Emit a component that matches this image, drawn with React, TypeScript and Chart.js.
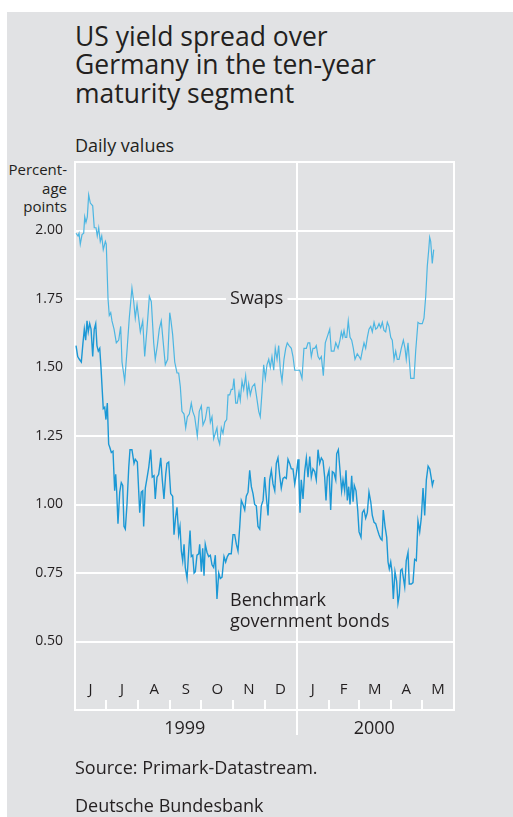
import React, { useEffect, useRef } from 'react';
import { Chart, registerables } from 'chart.js';

Chart.register(...registerables);

// ---- data ----
const monthLabels = ['J', 'J', 'A', 'S', 'O', 'N', 'D', 'J', 'F', 'M', 'A', 'M'];
// day offsets (from 1 June 1999) at which each month starts, plus the end
const monthStarts = [0, 30, 61, 92, 122, 153, 183, 214, 245, 274, 305, 335, 366];
const yearLabels = ['1999', '2000'];
const yearStarts = [0, 214, 366];
const yTickValues = [0.5, 0.75, 1.0, 1.25, 1.5, 1.75, 2.0];

const swapDays = [
  1.0, 2.9, 3.9, 5.1, 6.8, 8.4, 9.4, 10.6, 11.9, 13.2, 14.8, 17.1, 18.6, 20.3, 21.5, 22.9, 24.4, 25.8, 27.3, 29.3,
  30.2, 31.9, 33.1, 34.5, 35.7, 37.7, 39.9, 42.2, 44.1, 45.4, 48.0, 50.2, 52.4, 55.0, 56.7, 58.2, 59.9, 63.1, 65.4, 67.3,
  69.5, 71.8, 73.7, 76.0, 77.5, 79.5, 81.4, 83.3, 85.0, 87.2, 89.5, 91.5, 92.7, 94.3, 96.3, 98.5, 100.1, 101.7, 103.3, 105.3,
  106.9, 108.5, 110.4, 112.3, 113.7, 115.6, 118.1, 120.0, 122.0,
  123.6, 125.8, 127.8, 129.4, 130.7, 132.3, 133.9, 135.5, 137.1, 138.1, 139.7, 141.3, 142.9, 144.6, 146.5, 147.8, 149.4, 150.9, 152.3, 153.5,
  155.2, 156.7, 158.4, 159.6, 161.3, 162.9, 164.8, 166.4, 167.7, 169.3, 171.2, 173.5, 175.5, 177.4, 178.9, 180.6, 182.2, 183.8, 185.4, 187.1,
  188.6, 190.2, 191.9, 193.4, 195.1, 196.7, 198.3, 199.9, 201.8, 203.5, 205.0, 206.7, 208.9, 210.5, 212.2, 214.4, 217.0, 219.2, 221.1, 223.4,
  225.0, 226.7, 228.2, 229.8, 231.5, 233.0, 234.7, 236.3, 237.9, 239.8, 241.7,
  244.3, 246.0, 247.5, 250.1, 251.8, 254.0, 255.9, 257.2, 258.5, 259.8, 261.0, 262.4, 263.9, 265.6, 267.2, 268.8, 270.4, 272.6, 274.3, 275.9,
  277.4, 279.1, 280.7, 282.3, 283.9, 285.6, 287.1, 288.8, 290.4, 291.9, 293.6, 295.2, 296.8, 298.4, 300.0, 301.6, 303.2, 304.9, 306.4, 308.1,
  309.7, 311.2, 312.9, 315.1, 317.1, 318.7, 319.9, 321.6, 322.8, 324.2, 325.7, 327.4, 329.0, 331.2, 332.9, 335.4, 337.0, 338.7, 340.2, 341.6,
  342.5, 343.5, 345.0, 346.4,
];
const swapValues = [
  1.99, 1.98, 1.99, 1.95, 1.985, 1.99, 2.05, 2.03, 2.05, 2.13, 2.10, 2.09, 2.01, 2.01, 1.98, 2.01, 1.96, 1.98, 1.93, 1.96,
  1.95, 1.75, 1.69, 1.70, 1.67, 1.64, 1.59, 1.60, 1.65, 1.52, 1.45, 1.56, 1.68, 1.79, 1.74, 1.68, 1.73, 1.63, 1.67, 1.54,
  1.64, 1.76, 1.74, 1.59, 1.53, 1.58, 1.64, 1.67, 1.60, 1.51, 1.53, 1.70, 1.67, 1.62, 1.52, 1.48, 1.48, 1.43, 1.34, 1.33,
  1.28, 1.32, 1.33, 1.37, 1.34, 1.32, 1.25, 1.34, 1.36,
  1.29, 1.31, 1.355, 1.355, 1.30, 1.32, 1.24, 1.26, 1.28, 1.24, 1.22, 1.28, 1.26, 1.30, 1.31, 1.40, 1.40, 1.42, 1.42, 1.46,
  1.37, 1.37, 1.41, 1.38, 1.45, 1.42, 1.47, 1.40, 1.44, 1.40, 1.43, 1.44, 1.39, 1.34, 1.32, 1.41, 1.51, 1.46, 1.51, 1.53,
  1.50, 1.54, 1.49, 1.57, 1.53, 1.58, 1.49, 1.45, 1.53, 1.57, 1.59, 1.58, 1.57, 1.54, 1.49, 1.49, 1.49, 1.46, 1.57, 1.57,
  1.59, 1.59, 1.54, 1.57, 1.57, 1.58, 1.54, 1.53, 1.54, 1.47, 1.59,
  1.62, 1.64, 1.56, 1.56, 1.59, 1.57, 1.60, 1.63, 1.61, 1.635, 1.61, 1.61, 1.67, 1.61, 1.60, 1.57, 1.53, 1.55, 1.54, 1.53,
  1.56, 1.59, 1.57, 1.61, 1.64, 1.65, 1.63, 1.665, 1.64, 1.645, 1.66, 1.645, 1.665, 1.635, 1.63, 1.665, 1.65, 1.61, 1.60, 1.53,
  1.56, 1.53, 1.53, 1.57, 1.60, 1.57, 1.53, 1.59, 1.53, 1.46, 1.46, 1.46, 1.56, 1.665, 1.66, 1.66, 1.68, 1.76, 1.87, 1.93,
  1.975, 1.96, 1.88, 1.93,
];

const bondDays = [
  1.0, 2.6, 4.2, 6.1, 7.7, 9.0, 10.3, 11.6, 12.8, 14.2, 15.5, 17.1, 18.6, 20.0, 21.2, 22.5, 23.9, 25.1, 26.4, 27.3,
  28.7, 29.9, 31.2, 32.5, 33.5, 35.1, 36.7, 38.3, 39.3, 40.3, 41.5, 43.2, 44.7, 46.1, 47.3, 48.6, 50.2, 51.9, 53.1, 55.0,
  57.0, 58.2, 60.2, 61.5, 62.5, 64.0, 65.4, 66.3, 67.9, 69.5, 71.2, 73.1, 74.6, 76.3, 77.5, 79.2, 80.8, 82.8, 84.3, 85.9,
  87.6, 88.8, 90.5, 92.4, 94.3, 95.6, 97.2, 98.5, 100.1, 101.4, 102.7, 104.0, 105.3, 106.5, 108.2, 109.8, 111.1, 112.3, 113.7, 115.0,
  116.2, 117.8, 119.5,
  120.4, 122.0, 123.3, 124.6, 125.8, 127.5, 129.1, 130.7, 132.3, 133.9, 135.5, 137.1, 138.8, 140.3, 142.0, 143.9, 145.5, 147.1, 148.7, 150.9,
  152.6, 154.2, 155.8, 157.4, 159.1, 160.6, 162.2, 163.9, 165.4, 167.1, 168.7, 170.3, 171.9, 173.5, 175.1, 176.7, 178.4, 179.9, 181.6, 183.2,
  184.7, 186.4, 188.0, 189.6, 191.2, 192.9, 194.4, 196.0, 197.7, 199.2, 200.9, 202.5, 204.1, 205.7, 207.3, 208.9, 210.5, 212.2, 213.7, 215.4,
  216.3, 217.3, 218.5, 220.2, 221.8, 223.4, 225.0, 226.7, 228.2, 229.8, 231.5, 233.0, 234.7, 236.3, 237.9, 239.5, 241.1, 242.4, 243.6,
  245.3, 246.9, 248.5, 250.1, 251.8, 252.7, 254.3, 255.9, 257.5, 258.8, 260.4, 261.7, 263.0, 264.3, 265.6, 267.2, 268.5, 269.7, 271.4, 273.0,
  274.3, 276.2, 277.5, 279.1, 280.7, 282.3, 283.9, 285.6, 287.1, 288.8, 290.4, 291.9, 293.6, 295.2, 296.5, 297.7, 299.4, 301.0, 302.3, 303.5,
  304.9, 306.1, 307.4, 309.0, 310.6, 311.9, 313.2, 314.5, 315.8, 317.0, 318.4, 319.9, 321.6, 322.8, 324.8, 326.4, 328.0, 329.6, 331.2, 332.9,
  334.4, 336.1, 337.7, 339.3, 341.0, 342.6, 344.1, 345.1, 346.4,
];
const bondValues = [
  1.58, 1.54, 1.53, 1.52, 1.59, 1.64, 1.60, 1.67, 1.63, 1.66, 1.64, 1.54, 1.64, 1.66, 1.58, 1.56, 1.57, 1.50, 1.41, 1.35,
  1.355, 1.31, 1.37, 1.22, 1.21, 1.19, 1.195, 1.05, 1.11, 1.045, 0.93, 1.045, 1.08, 1.07, 0.92, 0.91, 1.00, 1.135, 1.20, 1.20,
  1.15, 1.165, 1.155, 1.05, 0.97, 1.045, 1.05, 0.92, 1.06, 1.095, 1.135, 1.20, 1.10, 1.105, 1.02, 1.10, 1.11, 1.17, 1.09, 1.02,
  1.11, 1.15, 1.155, 1.04, 1.03, 0.89, 0.955, 0.99, 0.89, 0.92, 0.83, 0.795, 0.855, 0.77, 0.73, 0.83, 0.905, 0.81, 0.815, 0.75,
  0.755, 0.815, 0.82,
  0.855, 0.755, 0.84, 0.74, 0.855, 0.825, 0.81, 0.815, 0.78, 0.77, 0.815, 0.655, 0.75, 0.73, 0.735, 0.81, 0.79, 0.81, 0.82, 0.82,
  0.89, 0.89, 0.855, 0.83, 0.92, 1.015, 1.00, 0.98, 1.03, 1.045, 1.125, 1.065, 1.04, 1.00, 0.995, 0.92, 0.91, 0.995, 1.015, 1.10,
  1.03, 0.96, 1.09, 1.125, 1.075, 1.05, 1.15, 1.17, 1.105, 1.06, 1.095, 1.10, 1.095, 1.165, 1.15, 1.13, 1.13, 1.075, 1.11, 1.165,
  1.09, 0.97, 1.09, 1.02, 1.12, 1.17, 1.10, 1.175, 1.10, 1.13, 1.12, 1.09, 1.20, 1.15, 1.17, 1.16, 1.10, 1.015, 1.10,
  1.125, 0.98, 1.12, 1.115, 1.09, 1.185, 1.20, 1.125, 1.05, 1.09, 1.05, 1.125, 1.015, 1.065, 1.00, 1.105, 1.01, 1.07, 1.05, 0.98,
  0.90, 0.88, 0.97, 0.98, 0.95, 0.97, 1.045, 1.01, 0.96, 0.935, 0.93, 0.91, 0.89, 0.875, 0.87, 0.98, 0.92, 0.88, 0.79, 0.765,
  0.79, 0.755, 0.655, 0.755, 0.72, 0.64, 0.67, 0.76, 0.765, 0.735, 0.70, 0.795, 0.825, 0.71, 0.71, 0.715, 0.80, 0.795, 0.94, 0.90,
  0.95, 1.06, 0.96, 1.09, 1.14, 1.13, 1.095, 1.07, 1.09,
];

const FONT = '"Open Sans", "Noto Sans", sans-serif';
const TEXT = '#231f20';
const BG = '#e1e2e4';

const zip = (xs: number[], ys: number[]) =>
  xs.slice(0, Math.min(xs.length, ys.length)).map((x, i) => ({ x, y: ys[i] }));

const decorPlugin = {
  id: 'decor',
  beforeDatasetsDraw(chart: any) {
    const { ctx, chartArea, scales } = chart;
    const { left, right, top, bottom } = chartArea;
    const x = scales.x;
    const y = scales.y;
    ctx.save();
    ctx.strokeStyle = '#ffffff';
    ctx.lineWidth = 2;
    const line = (x1: number, y1: number, x2: number, y2: number) => {
      ctx.beginPath();
      ctx.moveTo(x1, y1);
      ctx.lineTo(x2, y2);
      ctx.stroke();
    };
    // frame
    line(left, top - 1, left, bottom + 1);
    line(right, top - 1, right, bottom + 1);
    // month tick marks
    monthStarts.slice(1, -1).forEach((d) => {
      const px = Math.round(x.getPixelForValue(d));
      line(px, bottom, px, bottom - 10);
    });
    // year separator
    const yx = Math.round(x.getPixelForValue(yearStarts[1]));
    line(yx, top, yx, bottom + 25);

    // month labels
    ctx.fillStyle = TEXT;
    ctx.font = `15px ${FONT}`;
    ctx.textAlign = 'center';
    ctx.textBaseline = 'middle';
    monthLabels.forEach((m, i) => {
      const mid = (monthStarts[i] + monthStarts[i + 1]) / 2;
      ctx.fillText(m, x.getPixelForValue(mid), bottom - 20);
    });
    // year labels
    ctx.font = `18px ${FONT}`;
    yearLabels.forEach((yl, i) => {
      const mid = (yearStarts[i] + yearStarts[i + 1]) / 2;
      ctx.fillText(yl, x.getPixelForValue(mid) - 1, bottom + 19);
    });

    // series labels
    ctx.font = `18px ${FONT}`;
    ctx.textAlign = 'left';
    const sx = x.getPixelForValue(149.7);
    const sy = y.getPixelForValue(1.75);
    const w = ctx.measureText('Swaps').width;
    ctx.fillStyle = BG;
    ctx.fillRect(sx - 4, sy - 4, w + 8, 8);
    ctx.fillStyle = TEXT;
    ctx.fillText('Swaps', sx, sy);
    ctx.fillText('Benchmark', sx, y.getPixelForValue(0.65));
    ctx.fillText('government bonds', sx, y.getPixelForValue(0.573));
    ctx.restore();
  },
};

function SpreadChart() {
  const ref = useRef<HTMLCanvasElement | null>(null);
  useEffect(() => {
    if (!ref.current) return;
    const chart = new Chart(ref.current, {
      type: 'line',
      data: {
        datasets: [
          {
            label: 'Benchmark government bonds',
            data: zip(bondDays, bondValues),
            borderColor: '#1b98d5',
            borderWidth: 1.4,
            pointRadius: 0,
            tension: 0,
          },
          {
            label: 'Swaps',
            data: zip(swapDays, swapValues),
            borderColor: '#4cb6e2',
            borderWidth: 1.2,
            pointRadius: 0,
            tension: 0,
          },
        ],
      },
      options: {
        animation: false,
        responsive: false,
        devicePixelRatio: 1,
        layout: { padding: { top: 162, right: 59, bottom: 107, left: 0 } },
        plugins: { legend: { display: false }, tooltip: { enabled: false }, title: { display: false } },
        scales: {
          x: { type: 'linear', min: 0, max: 366, display: false },
          y: {
            type: 'linear',
            min: 0.25,
            max: 2.25,
            afterFit: (s: any) => {
              s.width = 75;
            },
            afterBuildTicks: (s: any) => {
              s.ticks = [0.25, ...yTickValues, 2.25].map((v) => ({ value: v }));
            },
            grid: { color: '#ffffff', lineWidth: 2, drawTicks: false },
            border: { display: false },
            ticks: {
              padding: 12,
              color: TEXT,
              font: { family: FONT, size: 14 },
              callback: (v: any) => (yTickValues.includes(Number(v)) ? Number(v).toFixed(2) : ''),
            },
          },
        },
      },
      plugins: [decorPlugin],
    } as any);
    return () => chart.destroy();
  }, []);
  return (
    <canvas
      ref={ref}
      width={513}
      height={817}
      style={{ position: 'absolute', left: 0, top: 0, width: 513, height: 817 }}
    />
  );
}

export default function App() {
  const abs = (l: number, t: number, extra: React.CSSProperties = {}): React.CSSProperties => ({
    position: 'absolute',
    left: l,
    top: t,
    whiteSpace: 'nowrap',
    ...extra,
  });
  return (
    <div
      style={{
        position: 'fixed',
        left: 0,
        top: 0,
        width: 513,
        height: 817,
        overflow: 'hidden',
        background: '#ffffff',
        fontFamily: FONT,
        color: TEXT,
      }}
    >
      <div style={{ position: 'absolute', left: 7, top: 12, width: 506, height: 805, background: BG }} />
      <div style={abs(75, 21.5, { fontSize: 26.5, lineHeight: '28.5px' })}>
        US yield spread over
        <br />
        Germany in the ten-year
        <br />
        maturity segment
      </div>
      <div style={abs(75, 135, { fontSize: 18, lineHeight: '20px' })}>Daily values</div>
      <div style={abs(0, 160, { width: 67, textAlign: 'right', fontSize: 15, lineHeight: '18.5px' })}>
        Percent-
        <br />
        age
        <br />
        points
      </div>
      <SpreadChart />
      <div style={abs(75, 757, { fontSize: 18, lineHeight: '20px' })}>Source: Primark-Datastream.</div>
      <div style={abs(75, 795, { fontSize: 18, lineHeight: '20px' })}>Deutsche Bundesbank</div>
    </div>
  );
}
